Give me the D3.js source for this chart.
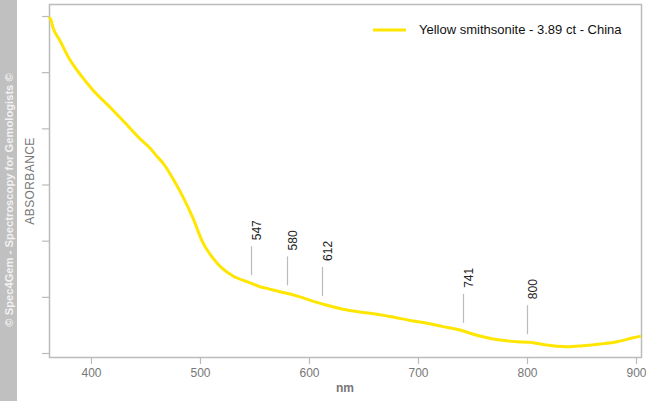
<!DOCTYPE html>
<html><head><meta charset="utf-8">
<script src="https://cdn.jsdelivr.net/npm/d3@7"></script>
<style>body{margin:0;background:#fff}svg{display:block}text{font-family:Arial,"Liberation Sans",sans-serif}</style>
</head><body>
<svg id="c" width="646" height="401"></svg>
<script>
const wavelengths = [361.5,363.3,365.1,371.6,378.9,391.7,400.9,419.3,431.2,446.8,454.1,461.5,466.1,477.1,484.4,493.6,502.8,511.9,520.2,530.3,545.9,555.0,561.5,573.4,582.6,591.7,605.5,616.5,631.2,646.8,662.4,677.1,692.7,708.3,723.0,738.5,745.0,759.6,775.2,790.8,802.8,814.7,836.7,851.4,867.0,882.6,897.2,904.5];
const absorbance = [5.98,5.93,5.80,5.56,5.28,4.92,4.70,4.34,4.10,3.78,3.65,3.48,3.38,3.04,2.78,2.40,1.96,1.69,1.51,1.37,1.25,1.18,1.15,1.09,1.05,1.00,0.91,0.85,0.78,0.73,0.69,0.64,0.58,0.53,0.47,0.41,0.37,0.29,0.23,0.20,0.19,0.15,0.11,0.13,0.16,0.20,0.27,0.30];
const xTicks = [400,500,600,700,800,900];
const yTicks = [0,1,2,3,4,5,6];
const peaks = [547,580,612,741,800];
const seriesName = "Yellow smithsonite - 3.89 ct - China";

const svg = d3.select("#c");
const L = 49, R = 642, T = 4, B = 357;
const x = d3.scaleLinear().domain([361.5, 905.5]).range([L, R]);
const y = d3.scaleLinear().domain([0, 6]).range([353, 16]);

// left band
svg.append("rect").attr("x",0).attr("y",0).attr("width",17).attr("height",401).attr("fill","#c0c0c0");
svg.append("text").attr("transform","translate(13,200) rotate(-90)")
  .attr("text-anchor","middle").attr("font-size",11.2).attr("font-weight","bold")
  .attr("fill","#f2f2f2").text("© Spec4Gem - Spectroscopy for Gemologists ©");

// frame
svg.append("rect").attr("x",L+0.5).attr("y",T+0.5).attr("width",R-L-1).attr("height",B-T)
  .attr("fill","none").attr("stroke","#bbb").attr("stroke-width",1.5);

// y ticks
const yAxis = svg.append("g").attr("transform",`translate(${L},0)`)
  .call(d3.axisLeft(y).tickValues(yTicks).tickSize(7).tickFormat(""));
yAxis.select(".domain").remove();
yAxis.selectAll("line").attr("stroke","#bbb").attr("stroke-width",1.2);

// x axis
const xAxis = svg.append("g").attr("transform",`translate(0,${B})`)
  .call(d3.axisBottom(x).tickValues(xTicks).tickSize(7).tickPadding(4).tickFormat(d3.format("d")));
xAxis.select(".domain").remove();
xAxis.selectAll("line").attr("stroke","#bbb").attr("stroke-width",1.2);
xAxis.selectAll("text").attr("fill","#777").attr("font-size",12).attr("font-family","Arial, sans-serif");

svg.append("text").attr("x",345).attr("y",392).attr("text-anchor","middle")
  .attr("font-size",12).attr("font-weight","bold").attr("fill","#777").text("nm");
svg.append("text").attr("transform","translate(34,181) rotate(-90)").attr("text-anchor","middle")
  .attr("font-size",12).attr("letter-spacing",0.4).attr("fill","#777").text("ABSORBANCE");

// curve
const line = d3.line().x((d,i)=>x(wavelengths[i])).y(d=>y(d)).curve(d3.curveMonotoneX);
svg.append("path").datum(absorbance).attr("d",line).attr("fill","none")
  .attr("stroke","#ffe600").attr("stroke-width",3);

// peaks
const interp = w => {
  const i = d3.bisectRight(wavelengths, w) - 1;
  const t = (w - wavelengths[i])/(wavelengths[i+1]-wavelengths[i]);
  return absorbance[i] + t*(absorbance[i+1]-absorbance[i]);
};
const pg = svg.append("g");
peaks.forEach(p => {
  const px = Math.round(x(p)) + 0.5;
  const cy = y(interp(p));
  const yb = cy - 8, yt = yb - 29;
  pg.append("line").attr("x1",px).attr("x2",px).attr("y1",yt).attr("y2",yb)
    .attr("stroke","#bbb").attr("stroke-width",1.2);
  pg.append("text").attr("transform",`translate(${px+9},${yt-6}) rotate(-90)`)
    .attr("font-size",12).attr("fill","#222").text(p);
});

// legend
svg.append("line").attr("x1",373).attr("x2",406).attr("y1",30).attr("y2",30)
  .attr("stroke","#ffe600").attr("stroke-width",3);
svg.append("text").attr("x",419).attr("y",34).attr("font-size",13).attr("fill","#111").text(seriesName);
</script>
</body></html>
